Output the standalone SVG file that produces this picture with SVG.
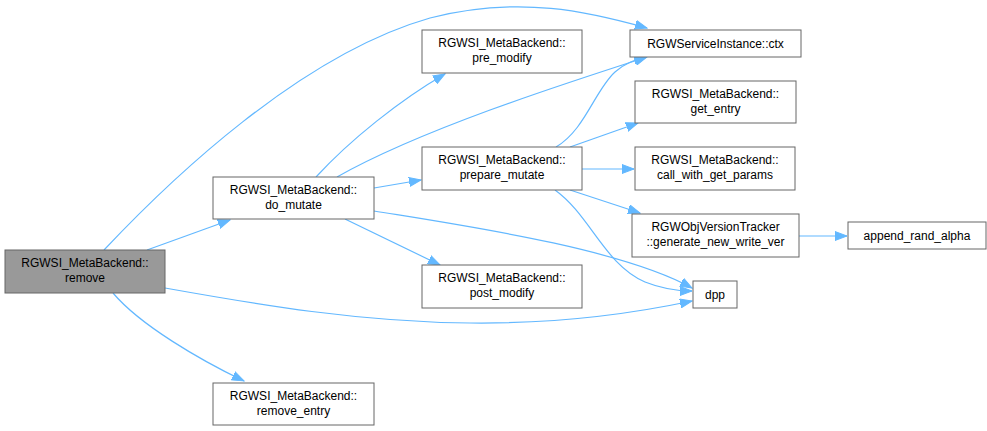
<svg xmlns="http://www.w3.org/2000/svg" width="987" height="431" viewBox="0 0 987 431">
<style>
.n rect{fill:#fff;stroke:#666;stroke-width:1}
.n.h rect{fill:#999}
.n text{font-family:"Liberation Sans",Arial,sans-serif;font-size:12px;fill:#000;text-anchor:middle}
.e path{fill:none;stroke:#63b8ff;stroke-width:1.2;marker-end:url(#a)}
</style>
<defs>
<marker id="a" markerUnits="userSpaceOnUse" markerWidth="13" markerHeight="10" refX="12" refY="4.5" orient="auto" viewBox="0 0 13 9">
<path d="M0,0 L12,4.5 L0,9 z" fill="#63b8ff" stroke="#63b8ff"/>
</marker>
</defs>
<rect width="987" height="431" fill="#fff"/>
<g id="edges" class="e">
<path d="M104,250 C170,180 300,55 430,18 C520,-5 590,12 647,28"/>
<path d="M147,250 L230,220"/>
<path d="M165,288 C260,305 360,322 470,323 C560,324 640,312 692,301"/>
<path d="M113,293 C140,325 200,360 244,381"/>
<path d="M316,177 C350,140 400,100 445,74"/>
<path d="M337,177 C420,130 560,85 647,57"/>
<path d="M374,188 L421,180"/>
<path d="M374,211 C460,225 620,248 692,288"/>
<path d="M345,219 L440,265"/>
<path d="M556,147 C585,130 595,90 615,72 C625,63 635,60 646,57"/>
<path d="M570,147 L638,123"/>
<path d="M582,169 L634,169"/>
<path d="M570,190 L640,213"/>
<path d="M555,190 C590,215 605,265 645,282 C665,290 680,291 692,291"/>
<path d="M799,236 L847,236"/>
</g>
<g id="n_remove" class="n h"><rect x="5" y="250" width="160" height="43"/><text x="85" y="267">RGWSI_MetaBackend::</text><text x="85" y="282">remove</text></g>
<g id="n_do_mutate" class="n"><rect x="213" y="177" width="161" height="42"/><text x="293.5" y="194">RGWSI_MetaBackend::</text><text x="293.5" y="209">do_mutate</text></g>
<g id="n_pre_modify" class="n"><rect x="422" y="30" width="160" height="43"/><text x="502" y="47">RGWSI_MetaBackend::</text><text x="502" y="62">pre_modify</text></g>
<g id="n_ctx" class="n"><rect x="630" y="30" width="171" height="27"/><text x="715.5" y="48">RGWServiceInstance::ctx</text></g>
<g id="n_get_entry" class="n"><rect x="635" y="81" width="161" height="42"/><text x="715.5" y="98">RGWSI_MetaBackend::</text><text x="715.5" y="113">get_entry</text></g>
<g id="n_prepare_mutate" class="n"><rect x="422" y="147" width="160" height="43"/><text x="502" y="164">RGWSI_MetaBackend::</text><text x="502" y="179">prepare_mutate</text></g>
<g id="n_call" class="n"><rect x="635" y="147" width="160" height="43"/><text x="715" y="164">RGWSI_MetaBackend::</text><text x="715" y="179">call_with_get_params</text></g>
<g id="n_gen" class="n"><rect x="632" y="214" width="167" height="43"/><text x="715.5" y="231">RGWObjVersionTracker</text><text x="715.5" y="246">::generate_new_write_ver</text></g>
<g id="n_append" class="n"><rect x="848" y="222" width="138" height="27"/><text x="917" y="240">append_rand_alpha</text></g>
<g id="n_post_modify" class="n"><rect x="422" y="265" width="160" height="43"/><text x="502" y="282">RGWSI_MetaBackend::</text><text x="502" y="297">post_modify</text></g>
<g id="n_dpp" class="n"><rect x="693" y="281" width="44" height="27"/><text x="715" y="299">dpp</text></g>
<g id="n_remove_entry" class="n"><rect x="213" y="383" width="161" height="42"/><text x="293.5" y="400">RGWSI_MetaBackend::</text><text x="293.5" y="415">remove_entry</text></g>
</svg>
